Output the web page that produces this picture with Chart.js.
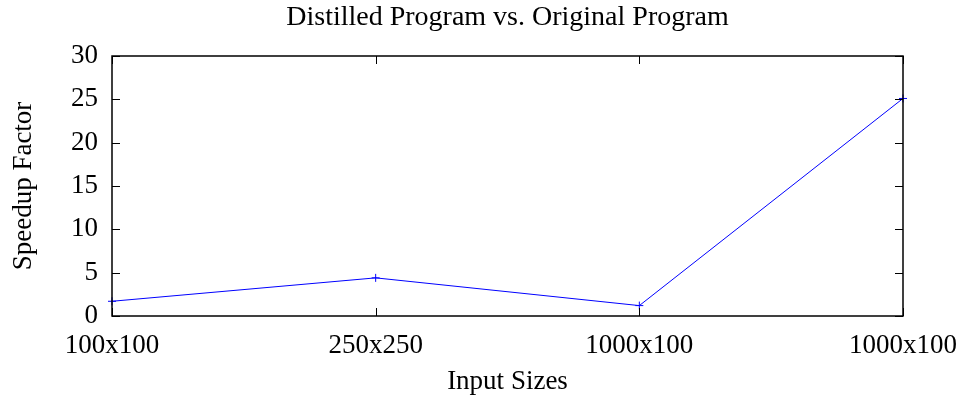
<!DOCTYPE html>
<html>
<head>
<meta charset="utf-8">
<script src="https://cdn.jsdelivr.net/npm/chart.js@4"></script>
<style>
  html, body { margin: 0; padding: 0; background: #fff; }
  #wrap { width: 960px; height: 398px; }
</style>
</head>
<body>
<div id="wrap"><canvas id="chart"></canvas></div>
<script>
/* ── Data ─────────────────────────────────────────────── */
const inputSizes = ['100x100', '250x250', '1000x100', '1000x100'];
const speedup = [1.7, 4.4, 1.2, 25.1];
const yTicks = [0, 5, 10, 15, 20, 25, 30];

const FONT = "'Liberation Serif', 'DejaVu Serif', serif";

/* ── Frame + inward ticks (gnuplot style) ─────────────── */
const framePlugin = {
  id: 'frame',
  afterLayout(chart) {
    // centre the title over the plot area, like gnuplot does
    if (chart.titleBlock) {
      chart.titleBlock.left = chart.chartArea.left;
      chart.titleBlock.right = chart.chartArea.right;
    }
  },
  afterDatasetsDraw(chart) {
    const { ctx, chartArea: a, scales } = chart;
    const t = 8;
    ctx.save();
    ctx.strokeStyle = '#000';
    ctx.lineWidth = 1;
    ctx.beginPath();
    scales.y.ticks.forEach(tk => {
      const py = Math.round(scales.y.getPixelForValue(tk.value)) + 0.5;
      ctx.moveTo(a.left, py); ctx.lineTo(a.left + t, py);
      ctx.moveTo(a.right, py); ctx.lineTo(a.right - t, py);
    });
    inputSizes.forEach((_, i) => {
      const px = Math.round(scales.x.getPixelForValue(i)) + 0.5;
      ctx.moveTo(px, a.bottom); ctx.lineTo(px, a.bottom - t);
      ctx.moveTo(px, a.top); ctx.lineTo(px, a.top + t);
    });
    ctx.stroke();
    ctx.lineWidth = 1.5;
    ctx.strokeRect(a.left, a.top, a.right - a.left, a.bottom - a.top);
    ctx.restore();
  }
};

new Chart(document.getElementById('chart'), {
  type: 'line',
  data: {
    labels: inputSizes,
    datasets: [{
      data: speedup,
      borderColor: '#0000ff',
      backgroundColor: '#0000ff',
      borderWidth: 1,
      pointStyle: 'cross',
      pointRadius: 4,
      pointBorderWidth: 1,
      tension: 0,
      clip: false,
    }],
  },
  options: {
    responsive: true,
    maintainAspectRatio: false,
    animation: false,
    layout: { padding: { left: 0, right: 57, top: 0, bottom: 0 } },
    plugins: {
      legend: { display: false },
      tooltip: { enabled: false },
      title: {
        display: true,
        text: 'Distilled Program vs. Original Program',
        color: '#000',
        font: { family: FONT, size: 28, weight: 'normal' },
        padding: { top: 1, bottom: 21.4 },
      },
    },
    scales: {
      x: {
        type: 'category',
        offset: false,
        grid: { display: false, drawTicks: false },
        border: { display: false },
        ticks: {
          color: '#000',
          font: { family: FONT, size: 27 },
          autoSkip: false,
          maxRotation: 0,
          padding: 14,
        },
        title: {
          display: true,
          text: 'Input Sizes',
          color: '#000',
          font: { family: FONT, size: 27 },
          padding: { top: 8, bottom: 0 },
        },
        afterFit(scale) {
          scale.height = 82;
          scale.paddingLeft = 0;
          scale.paddingRight = 0;
        },
      },
      y: {
        min: 0,
        max: 30,
        afterBuildTicks(scale) { scale.ticks = yTicks.map(v => ({ value: v })); },
        grid: { display: false, drawTicks: false },
        border: { display: false },
        ticks: {
          color: '#000',
          font: { family: FONT, size: 27 },
          padding: 14,
        },
        title: {
          display: true,
          text: 'Speedup Factor',
          color: '#000',
          font: { family: FONT, size: 27 },
          padding: { top: 8, bottom: 4 },
        },
        afterFit(scale) {
          scale.width = 112;
          scale.paddingTop = 0;
          scale.paddingBottom = 0;
        },
      },
    },
  },
  plugins: [framePlugin],
});
</script>
</body>
</html>
